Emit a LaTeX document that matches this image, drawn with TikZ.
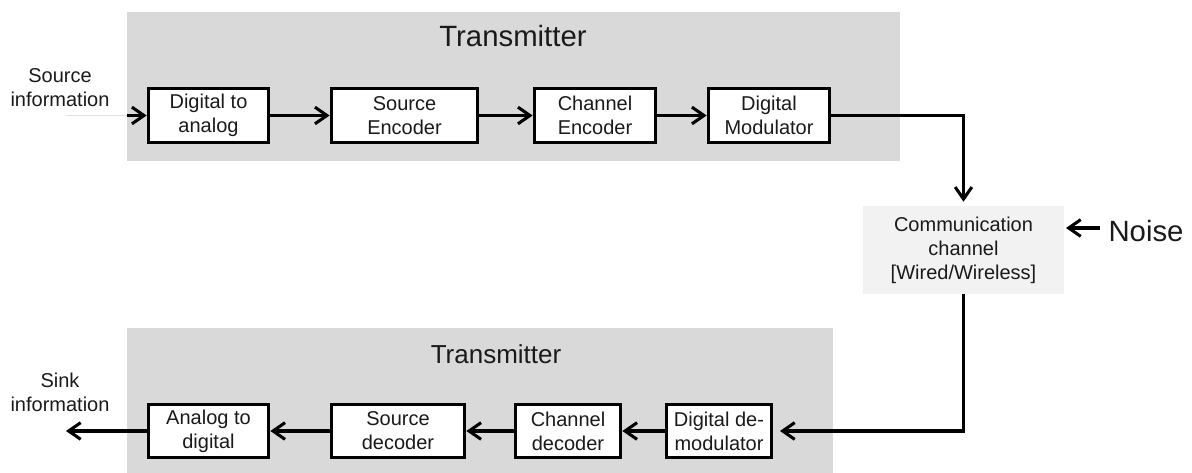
\documentclass[tikz,border=0pt]{standalone}
\usepackage{fontspec}
\setmainfont{Liberation Sans}
\usetikzlibrary{arrows.meta}
\definecolor{panelgray}{HTML}{D9D9D9}
\definecolor{changray}{HTML}{F2F2F2}
\definecolor{inkgray}{HTML}{1A1A1A}
\begin{document}
\begin{tikzpicture}[x=0.75pt,y=-0.75pt,
  blk/.style={draw=black, fill=white, line width=2.3pt, align=center, inner sep=0pt,
              text=inkgray, font=\fontsize{15}{18}\selectfont},
  conn/.style={line width=2.3pt, -{Straight Barb[length=9pt,width=12.5pt,line width=2.3pt]}},
  lbl/.style={align=center, inner sep=0pt, text=inkgray, font=\fontsize{15}{18}\selectfont},
  panel/.style={fill=panelgray, draw=none, inner sep=0pt},
  title/.style={inner sep=0pt, text=inkgray}]
\useasboundingbox (0,0) rectangle (1192,473);
% panels
\node[panel, minimum width=579.75pt, minimum height=111.75pt] (txpanel) at (513.5,86.5) {};
\node[panel, minimum width=529.5pt, minimum height=108.75pt] (rxpanel) at (480,400.5) {};
\node[title, font=\fontsize{22}{26}\selectfont] (txtitle) at (513,36) {Transmitter};
\node[title, font=\fontsize{19.5}{23}\selectfont] (rxtitle) at (496,354) {Transmitter};
% top row
\node[blk, minimum width=90.5pt, minimum height=41pt] (d2a) at (208.5,115.5) {Digital to\\analog};
\node[blk, minimum width=110pt, minimum height=41pt] (senc) at (404.5,115.5) {Source\\Encoder};
\node[blk, minimum width=91.25pt, minimum height=41pt] (cenc) at (595,115.5) {Channel\\Encoder};
\node[blk, minimum width=91.25pt, minimum height=41pt] (dmod) at (769,115.5) {Digital\\Modulator};
% channel
\node[lbl, fill=changray, minimum width=150.75pt, minimum height=66pt] (comm) at (963.5,250) {Communication\\channel\\{[}Wired/Wireless{]}};
\node[title, font=\fontsize{22}{26}\selectfont] (noise) at (1146,231) {Noise};
% bottom row
\node[blk, minimum width=90.5pt, minimum height=40.25pt] (a2d) at (208.5,431) {Analog to\\digital};
\node[blk, minimum width=100.25pt, minimum height=40.25pt] (sdec) at (398,431) {Source\\decoder};
\node[blk, minimum width=79.25pt, minimum height=40.25pt] (cdec) at (568,431) {Channel\\decoder};
\node[blk, minimum width=79.25pt, minimum height=40.25pt] (ddem) at (719,431) {Digital de-\\modulator};
% side labels
\node[lbl] (srcinfo) at (60,88) {Source\\information};
\node[lbl] (sinkinfo) at (60,392) {Sink\\information};
% coordinates
\coordinate (inA) at (66,115.5);
\coordinate (inB) at (127,115.5);
\coordinate (sinkend) at (66,431);
\coordinate (noiseA) at (1100,228);
\coordinate (noiseB) at (1066,228);
\coordinate (demodin) at (780,431);
% connectors
\draw[gray!25, line width=0.6pt] (inA) -- (inB);
\draw[conn] (inB) -- (d2a.west);
\draw[conn] (d2a) -- (senc);
\draw[conn] (senc) -- (cenc);
\draw[conn] (cenc) -- (dmod);
\draw[conn, shorten >=3pt] (dmod.east) -| (comm.north);
\draw[conn] (noiseA) -- (noiseB);
\draw[conn] (comm.south) |- (demodin);
\draw[conn] (ddem) -- (cdec);
\draw[conn] (cdec) -- (sdec);
\draw[conn] (sdec) -- (a2d);
\draw[conn] (a2d.west) -- (sinkend);
\end{tikzpicture}
\end{document}
